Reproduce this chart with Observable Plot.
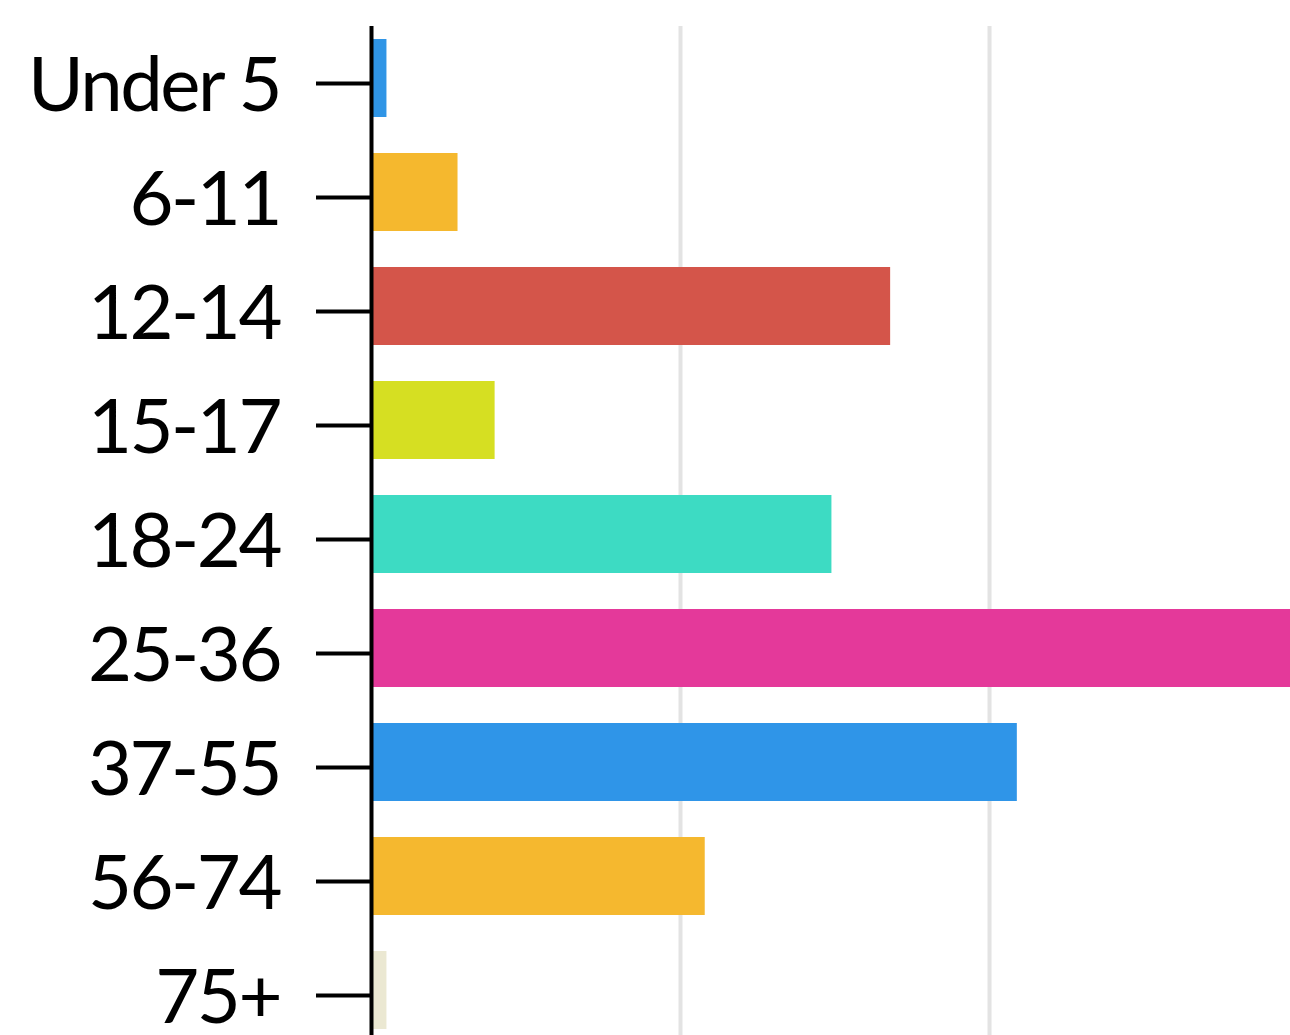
<!DOCTYPE html>
<html>
<head>
<meta charset="utf-8">
<script src="https://cdn.jsdelivr.net/npm/d3@7"></script>
<script src="https://cdn.jsdelivr.net/npm/@observablehq/plot@0.6"></script>
<style>
  html, body { margin: 0; padding: 0; background: #fff; overflow: hidden; }
  #chart svg { display: block; }
</style>
</head>
<body>
<div id="chart"></div>
<script>
const groups = ["Under 5", "6-11", "12-14", "15-17", "18-24", "25-36", "37-55", "56-74", "75+"];
const values = [0.5, 2.8, 16.8, 4.0, 14.9, 31, 20.9, 10.8, 0.5];
const palette = ["#2f95e6", "#f5b82e", "#d4554a", "#d6df22", "#3ddbc3", "#e4399a", "#2f95e8", "#f5b82f", "#ebe8d2"];
const gridTicks = [10, 20];

const data = groups.map((g, i) => ({group: g, value: values[i]}));

const chart = Plot.plot({
  width: 1290,
  height: 1035,
  marginLeft: 371,
  marginRight: 0,
  marginTop: 26,
  marginBottom: 0,
  style: {fontFamily: "Lato, sans-serif", background: "#fff", overflow: "hidden", letterSpacing: "-2.5px"},
  x: {domain: [0, 29.74], range: [371, 1290], axis: null},
  y: {domain: groups, range: [26, 1052], paddingInner: 0.316, paddingOuter: 0.158, axis: null},
  color: {domain: groups, range: palette},
  marks: [
    Plot.ruleX(gridTicks, {stroke: "#e3e3e3", strokeWidth: 4}),
    Plot.barX(data, {x: "value", y: "group", fill: "group", clip: true, dy: -5}),
    Plot.axisY({tickSize: 55, strokeWidth: 4, fill: "none", stroke: "#000", label: null}),
    Plot.axisY({tickSize: 0, tickPadding: 91.5, dy: 3, fontSize: 76, fill: "#000", label: null}),
    Plot.ruleX([0], {stroke: "#000", strokeWidth: 4})
  ]
});
document.getElementById("chart").appendChild(chart);
</script>
</body>
</html>
